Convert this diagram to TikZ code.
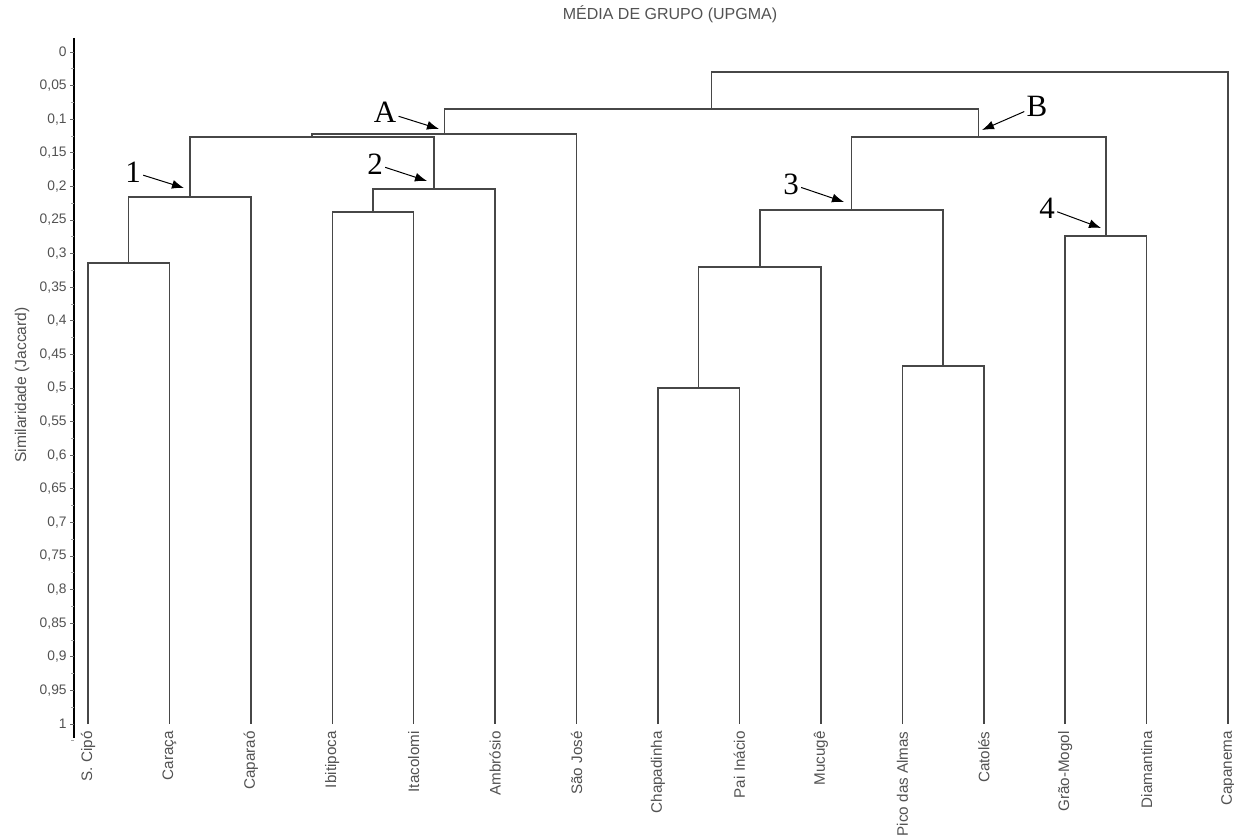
\documentclass[tikz,border=0pt]{standalone}
\usepackage{fontspec}
\setmainfont{Liberation Sans}
\newfontfamily\annfont{Liberation Serif}
\usepackage{tikz}
\usetikzlibrary{arrows.meta}

\begin{document}
\begin{tikzpicture}[x=0.5pt,y=-0.5pt]
            \tikzset{
                dend/.style={draw=black!72,line width=0.75pt},
                axisline/.style={line width=1.1pt},
                leaf/.style={rotate=90,anchor=east,inner sep=0pt,text=black!68,font=\fontsize{7.6}{8}\selectfont},
                ticklab/.style={anchor=east,inner sep=0pt,text=black!68,font=\fontsize{6.9}{8}\selectfont},
                ann/.style={inner sep=1pt,font=\annfont\fontsize{15.5}{16}\selectfont},
                annarrow/.style={-{Latex[length=6pt,width=4.5pt]},line width=0.5pt},}
            \useasboundingbox (0,0) rectangle (1234,839);
            \node[text=black!68,font=\fontsize{8}{9}\selectfont] (title) at (670,14) {MÉDIA DE GRUPO (UPGMA)};
            \node[rotate=90,text=black!68,font=\fontsize{7.8}{9}\selectfont] (ylab) at (22,385) {Similaridade (Jaccard)};
            % axis
            \draw [axisline] (74,38) -- (74,738);
            \foreach \t [count=\i from 0] in {0,{0,05},{0,1},{0,15},{0,2},{0,25},{0,3},{0,35},{0,4},{0,45},{0,5},{0,55},{0,6},{0,65},{0,7},{0,75},{0,8},{0,85},{0,9},{0,95},1}{
                \draw [black!60] (70,{52+33.6*\i}) -- (74,{52+33.6*\i});
                \draw [black!35] (71,{68.8+33.6*\i}) -- (74,{68.8+33.6*\i});
                \node[ticklab] at (67,{52+33.6*\i}) {\t};
            }
            % leaves
            \foreach \n/\t [count=\i from 0] in {sc/S. Cipó,car/Caraça,cap/Caparaó,ibi/Ibitipoca,ita/Itacolomi,amb/Ambrósio,sjo/São José,cha/Chapadinha,pai/Pai Inácio,muc/Mucugê,pic/Pico das Almas,cat/Catolés,gra/Grão-Mogol,dia/Diamantina,cpn/Capanema}{
                \coordinate (\n) at ({88+81.43*\i},724);
                \node[leaf] (\n-lab) at ({88+81.43*\i},731) {\t};
            }
            % merges
            \coordinate (m1) at (128.7,263);
            \coordinate (g1) at (189.8,197);
            \coordinate (m2) at (373,212);
            \coordinate (g2) at (434.1,189);
            \coordinate (m12) at (312,137);
            \coordinate (gA) at (444.3,134);
            \coordinate (m5) at (698.7,388);
            \coordinate (m6) at (759.8,267);
            \coordinate (m7) at (943,366);
            \coordinate (g3) at (851.4,210);
            \coordinate (g4) at (1105.9,236);
            \coordinate (gB) at (978.6,137);
            \coordinate (mAB) at (711.5,109);
            \coordinate (root) at (969.8,72);
            \draw [dend] (sc) |- (m1) -| (car);
            \draw [dend] (m1) |- (g1) -| (cap);
            \draw [dend] (ibi) |- (m2) -| (ita);
            \draw [dend] (m2) |- (g2) -| (amb);
            \draw [dend] (g1) |- (m12) -| (g2);
            \draw [dend] (m12) |- (gA) -| (sjo);
            \draw [dend] (cha) |- (m5) -| (pai);
            \draw [dend] (m5) |- (m6) -| (muc);
            \draw [dend] (pic) |- (m7) -| (cat);
            \draw [dend] (m6) |- (g3) -| (m7);
            \draw [dend] (gra) |- (g4) -| (dia);
            \draw [dend] (g3) |- (gB) -| (g4);
            \draw [dend] (gA) |- (mAB) -| (gB);
            \draw [dend] (mAB) |- (root) -| (cpn);
            % group labels
            \node[ann] (lab1) at (133,172) {1};
            \node[ann] (lab2) at (375,164) {2};
            \node[ann] (labA) at (385,112) {A};
            \node[ann] (labB) at (1037,106) {B};
            \node[ann] (lab3) at (791,184) {3};
            \node[ann] (lab4) at (1047,208) {4};
            \coordinate (tip1) at (184,188);
            \coordinate (tip2) at (427,181);
            \coordinate (tipA) at (439,129);
            \coordinate (tipB) at (982,130);
            \coordinate (tip3) at (844,202);
            \coordinate (tip4) at (1101,228);
            \draw [annarrow] (lab1) -- (tip1);
            \draw [annarrow] (lab2) -- (tip2);
            \draw [annarrow] (labA) -- (tipA);
            \draw [annarrow] (labB) -- (tipB);
            \draw [annarrow] (lab3) -- (tip3);
            \draw [annarrow] (lab4) -- (tip4);
        \end{tikzpicture}
\end{document}
